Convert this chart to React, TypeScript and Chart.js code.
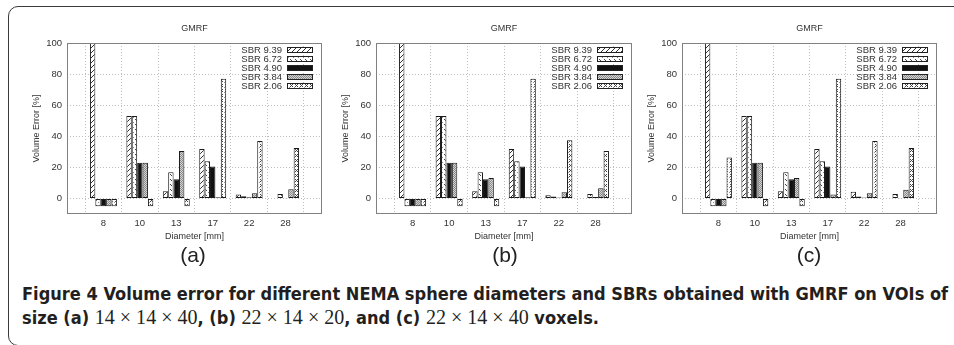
import React, { useEffect, useLayoutEffect, useRef, useState } from 'react';
import { Chart, registerables } from 'chart.js';

Chart.register(...registerables);

// ---------- data ----------
const categories = ['8', '10', '13', '17', '22', '28'];
const seriesLabels = ['SBR 9.39', 'SBR 6.72', 'SBR 4.90', 'SBR 3.84', 'SBR 2.06'];
const yTicks = [0, 20, 40, 60, 80, 100];
const yMin = -10;
const yMax = 100;

// panel (a)
const a939 = [100, 53, 4.7, 31.8, 2.5, 0.3];
const a672 = [-5, 53, 16.9, 23.9, 1.4, 2.8];
const a490 = [-5, 23, 12.4, 20.5, 0.8, 0.2];
const a384 = [-5, 23, 30.5, 0.8, 3.4, 6.0];
const a206 = [-5, -5, -5, 77, 37, 32.5];

// panel (b)
const b939 = [100, 53, 4.7, 31.8, 2.1, 0.3];
const b672 = [-5, 53, 16.9, 23.9, 1.3, 2.8];
const b490 = [-5, 23, 12.4, 20.5, 0.6, 1.0];
const b384 = [-5, 23, 13.2, 0.8, 4.0, 6.6];
const b206 = [-5, -5, -5, 77, 37.5, 30.5];

// panel (c)
const c939 = [100, 53, 4.7, 31.8, 4.3, 0.3];
const c672 = [-5, 53, 16.9, 23.9, 1.3, 2.8];
const c490 = [-5, 23, 12.4, 20.5, 0.6, 0.2];
const c384 = [-5, 23, 13.2, 2.6, 3.4, 5.6];
const c206 = [26.3, -5, -5, 77, 37, 32.5];

const panelLabels = ['(a)', '(b)', '(c)'];
const voiSizes = [
  ['14', '14', '40'],
  ['22', '14', '20'],
  ['22', '14', '40'],
];

// ---------- styling helpers ----------
const FONT = '"Liberation Sans", Arial, Helvetica, sans-serif';

function makeFills(): (CanvasPattern | string)[] {
  const mk = (size: number, draw: (g: CanvasRenderingContext2D) => void) => {
    const c = document.createElement('canvas');
    c.width = size;
    c.height = size;
    const g = c.getContext('2d')!;
    g.fillStyle = '#ffffff';
    g.fillRect(0, 0, size, size);
    draw(g);
    return g.createPattern(c, 'repeat')!;
  };
  const p939 = mk(5, (g) => {
    g.strokeStyle = '#333';
    g.lineWidth = 1;
    g.beginPath();
    g.moveTo(-1, 6); g.lineTo(6, -1);
    g.stroke();
  });
  const p672 = mk(5, (g) => {
    g.fillStyle = '#444';
    g.fillRect(0, 0, 1, 1);
    g.fillRect(1, 1, 1, 1);
    g.fillStyle = '#888';
    g.fillRect(3, 3, 1, 1);
  });
  const p384 = mk(2, (g) => {
    g.fillStyle = '#d4d4d4';
    g.fillRect(0, 0, 2, 2);
    g.fillStyle = '#8a8a8a';
    g.fillRect(0, 0, 1, 1);
    g.fillRect(1, 1, 1, 1);
  });
  const p206 = mk(5, (g) => {
    g.fillStyle = '#444';
    g.fillRect(0, 0, 1, 1);
    g.fillRect(2, 0, 1, 1);
    g.fillRect(1, 1, 1, 1);
    g.fillRect(0, 2, 1, 1);
    g.fillRect(2, 2, 1, 1);
    g.fillStyle = '#999';
    g.fillRect(4, 3, 1, 1);
  });
  return [p939, p672, '#111111', p384, p206];
}

const framePlugin = {
  id: 'gnuFrame',
  afterDatasetsDraw(chart: any) {
    const { ctx, chartArea } = chart;
    const { left, right, top, bottom } = chartArea;
    ctx.save();
    // frame
    ctx.strokeStyle = '#808080';
    ctx.lineWidth = 1;
    ctx.strokeRect(left + 0.5, top + 0.5, right - left - 1, bottom - top - 1);
    // title
    ctx.fillStyle = '#333';
    ctx.font = `9px ${FONT}`;
    ctx.textAlign = 'center';
    ctx.textBaseline = 'middle';
    ctx.fillText('GMRF', (left + right) / 2, top - 14);
    // legend (text left of sample box)
    ctx.font = `9.5px ${FONT}`;
    chart.data.datasets.forEach((ds: any, i: number) => {
      const y = top + 7 + i * 9;
      const bx = right - 35;
      ctx.fillStyle = ds.backgroundColor;
      ctx.fillRect(bx, y - 2, 25, 4);
      ctx.strokeStyle = '#222';
      ctx.strokeRect(bx + 0.5, y - 2.5, 25, 5);
      ctx.fillStyle = '#333';
      ctx.textAlign = 'right';
      ctx.fillText(ds.label, bx - 5, y + 0.5);
    });
    ctx.restore();
  },
};

type PanelProps = { left: number; width: number; series: number[][] };

function Panel({ left, width, series }: PanelProps) {
  const ref = useRef<HTMLCanvasElement>(null);
  const height = 232;
  useEffect(() => {
    const fills = makeFills();
    const chart = new Chart(ref.current!, {
      type: 'bar',
      data: {
        labels: ['', ...categories, ''],
        datasets: seriesLabels.map((label, i) => ({
          label,
          data: [null, ...series[i], null],
          backgroundColor: fills[i] as any,
          borderColor: '#1a1a1a',
          borderWidth: 1,
          borderSkipped: false,
          categoryPercentage: 0.74,
          barPercentage: 1,
        })),
      },
      options: {
        responsive: false,
        animation: false,
        devicePixelRatio: 1,
        layout: { padding: { top: 29, left: 0, right: 10, bottom: 0 } },
        plugins: { legend: { display: false }, title: { display: false }, tooltip: { enabled: false } },
        scales: {
          x: {
            type: 'category',
            offset: false,
            grid: { color: '#bdbdbd', lineWidth: 1, drawTicks: false },
            border: { display: false, dash: [1, 2] },
            ticks: { color: '#333', font: { size: 9.5, family: FONT }, padding: 4, maxRotation: 0, autoSkip: false },
            title: {
              display: true,
              text: 'Diameter [mm]',
              color: '#333',
              font: { size: 9, family: FONT, lineHeight: 1.2 },
              padding: { top: 0, bottom: 3.6 },
            },
            afterFit: (scale: any) => { scale.height = 32; },
          },
          y: {
            type: 'linear',
            min: yMin,
            max: yMax,
            grid: { color: '#bdbdbd', lineWidth: 1, drawTicks: false },
            border: { display: false, dash: [1, 2] },
            ticks: { color: '#333', font: { size: 9.5, family: FONT }, padding: 5 },
            afterBuildTicks: (scale: any) => { scale.ticks = yTicks.map((v) => ({ value: v })); },
            title: {
              display: true,
              text: 'Volume Error [%]',
              color: '#333',
              font: { size: 9, family: FONT, lineHeight: 1.2 },
              padding: { top: 11.6, bottom: 0 },
            },
            afterFit: (scale: any) => { scale.width = 47; },
          },
        },
      },
      plugins: [framePlugin],
    } as any);
    return () => chart.destroy();
  }, []);
  return (
    <canvas
      ref={ref}
      width={width}
      height={height}
      style={{ position: 'absolute', left, top: 14, width, height }}
    />
  );
}

const CAPTION_FONT = '"DejaVu Sans Condensed", "DejaVu Sans", sans-serif';
const MATH_FONT = '"Liberation Serif", "DejaVu Serif", serif';

function M({ dims }: { dims: string[] }) {
  return (
    <span style={{ fontFamily: MATH_FONT, fontWeight: 400, fontSize: 20 }}>
      {dims[0]}
      <span style={{ padding: '0 5px' }}>×</span>
      {dims[1]}
      <span style={{ padding: '0 5px' }}>×</span>
      {dims[2]}
    </span>
  );
}

export default function App() {
  const line1 = useRef<HTMLDivElement>(null);
  const [k, setK] = useState(1);
  useLayoutEffect(() => {
    if (line1.current) {
      const w = line1.current.scrollWidth;
      if (w > 0) setK(926 / w);
    }
  }, []);
  const capStyle: React.CSSProperties = {
    position: 'absolute',
    left: 22,
    whiteSpace: 'nowrap',
    fontFamily: CAPTION_FONT,
    fontStretch: 'condensed',
    fontWeight: 700,
    fontSize: 18,
    lineHeight: '20px',
    color: '#231f20',
    transformOrigin: '0 0',
    transform: `scaleX(${k})`,
  };
  const panels = [
    { left: 20, width: 312, series: [a939, a672, a490, a384, a206], cx: 193 },
    { left: 329, width: 313, series: [b939, b672, b490, b384, b206], cx: 505 },
    { left: 635, width: 312, series: [c939, c672, c490, c384, c206], cx: 809 },
  ];
  return (
    <div
      style={{
        position: 'fixed',
        left: 0,
        top: 0,
        width: 954,
        height: 345,
        overflow: 'hidden',
        background: '#fff',
      }}
    >
      <div
        style={{
          position: 'absolute',
          left: 8,
          top: 6,
          width: 1000,
          height: 340,
          border: '1px solid #3a3a3a',
          borderRadius: 10,
          boxSizing: 'border-box',
        }}
      />
      {panels.map((p, i) => (
        <React.Fragment key={i}>
          <Panel left={p.left} width={p.width} series={p.series} />
          <div
            style={{
              position: 'absolute',
              left: p.cx - 30,
              width: 60,
              top: 242,
              textAlign: 'center',
              fontFamily: FONT,
              fontSize: 21,
              lineHeight: '26px',
              color: '#222',
            }}
          >
            {panelLabels[i]}
          </div>
        </React.Fragment>
      ))}
      <div ref={line1} style={{ ...capStyle, top: 284 }}>
        Figure 4 Volume error for different NEMA sphere diameters and SBRs obtained with GMRF on VOIs of
      </div>
      <div style={{ ...capStyle, top: 307 }}>
        size (a) <M dims={voiSizes[0]} />, (b) <M dims={voiSizes[1]} />, and (c) <M dims={voiSizes[2]} /> voxels.
      </div>
    </div>
  );
}
